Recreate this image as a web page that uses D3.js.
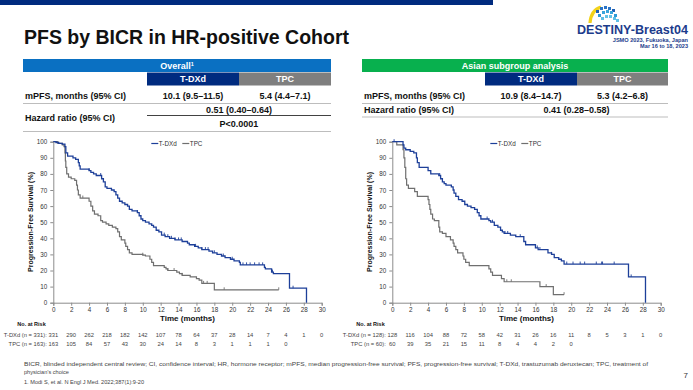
<!DOCTYPE html>
<html><head><meta charset="utf-8">
<script src="https://cdn.jsdelivr.net/npm/d3@7"></script>
<style>html,body{margin:0;padding:0;background:#fff}svg{display:block}text{font-family:"Liberation Sans",Arial,Helvetica,sans-serif}</style>
</head><body><svg id="c" width="693" height="390"></svg>
<script>
// ---------- DATA ----------
const timeTicks = d3.range(0, 31, 2);
const survTicks = d3.range(0, 101, 10);
const seriesNames = ["T-DXd", "TPC"];

// Overall cohort KM steps [month, PFS %]
const overallTdxd = [[0,100],[0.3,99.5],[0.6,99],[1.0,98.5],[1.3,97],[1.4,93],[1.6,91],[2.2,90],[2.5,89],[2.8,87],[2.9,85],[3.0,83],[4.0,82],[4.2,81],[4.5,80],[4.8,79],[5.4,77],[5.6,75],[5.8,72],[6.0,71],[6.5,70],[6.8,69],[7.0,67],[7.2,65],[7.4,63],[7.7,62],[8.0,61],[8.3,60],[8.5,58],[8.8,57],[9.4,56],[9.6,54],[9.8,52],[10.0,51],[10.3,50],[10.7,49],[11.0,48],[11.2,47],[11.5,45],[11.8,44],[12.1,42],[12.5,41],[13.0,40],[13.6,39],[14.4,38],[15.0,37],[15.2,36],[15.8,35],[16.2,34],[16.6,33],[17.4,32],[17.8,31],[18.3,30],[18.8,29],[19.2,28],[19.8,27],[20.2,26],[20.8,25],[20.9,23.5],[23.6,22],[23.7,21],[24.4,19],[24.6,18],[26.4,9],[28.3,0]];
const overallTpc = [[0,100],[0.5,99],[1.0,98],[1.2,97],[1.3,93],[1.35,88],[1.4,84],[1.5,80],[1.7,78],[2.0,77],[2.4,76],[2.6,73],[2.7,70],[2.8,67],[3.0,65],[4.0,63],[4.2,60],[4.4,57],[4.6,55],[5.0,54],[5.3,51],[5.5,50],[5.9,49],[6.2,48],[6.6,47],[7.0,46],[7.2,44],[7.4,41],[7.6,39],[8.0,37],[8.1,35],[8.3,33],[8.5,31],[8.8,30],[10.0,29.5],[10.3,29],[10.8,27],[11.0,25],[11.2,23],[12.4,22],[12.6,21],[12.8,20],[13.8,19],[14.1,18],[14.4,17],[15.3,16],[16.0,15],[16.3,14],[16.6,12],[18.0,8],[25.2,8]];
const overallTdxdCensor = [4.0,5.3,9.4,12.4,12.8,13.2,13.6,14.0,14.3,15.9,16.6,17.0,17.3,18.0,19.0,20.0,21.2,21.6,22.0,22.5,23.0,23.4,24.5,26.8];
const overallTpcCensor = [3.3,10.0,12.8,13.5,14.4,16.8,17.2,19.1,25.2];

// Asian subgroup KM steps
const asianTdxd = [[0,100],[1.2,98],[1.3,96],[1.5,95],[2.0,94],[2.4,93],[2.7,90],[2.8,87],[3.0,84],[4.0,82],[4.3,80],[5.2,79],[5.4,77],[5.6,75],[5.8,74],[6.0,73],[6.6,72],[6.8,70],[6.9,68],[7.1,66],[7.4,64],[7.8,63],[8.1,61],[8.4,60],[8.8,59],[9.2,58],[9.5,56],[9.7,54],[9.9,52],[10.8,51],[11.0,50],[11.4,48],[11.8,47],[12.1,45],[12.3,44],[12.5,43],[13.2,42],[13.8,41],[14.7,38],[14.9,36],[16.0,34],[16.3,33],[17.4,31],[17.8,30],[18.1,28],[18.6,27],[18.9,26],[19.2,24],[26.4,16],[28.3,0]];
const asianTpc = [[0,100],[0.5,98],[1.2,95],[1.3,90],[1.4,84],[1.5,77],[1.6,73],[1.8,71],[2.5,69],[2.8,66],[4.0,64],[4.1,61],[4.2,58],[4.3,55],[4.5,52],[4.7,51],[5.2,47],[5.3,44],[5.6,43],[6.0,41],[6.5,39],[6.8,37],[6.9,35],[7.1,33],[7.3,31],[7.9,29],[8.0,27],[8.2,25],[8.6,23],[10.8,21],[11.0,19],[11.2,17],[12.2,15],[12.5,13],[16.5,10],[18.0,5],[19.2,5]];
const asianTdxdCensor = [0.2,5.3,10.6,11.2,12.6,12.9,14.3,16.2,16.5,17.8,19.5,20.2,21.0,21.5,22.8,23.4,23.5,24.8,26.7];
const asianTpcCensor = [12.8,13.3,17.2,19.2];

// Numbers at risk (every 2 months)
const overallRiskTdxd = [331,290,262,218,182,142,107,78,64,37,28,14,7,4,1,0];
const overallRiskTpc = [163,105,84,57,43,30,24,14,8,3,1,1,1,0];
const asianRiskTdxd = [128,116,104,88,72,58,42,31,26,16,11,8,5,3,1,0];
const asianRiskTpc = [60,39,35,21,15,11,8,4,4,2,0];

// Table texts
const overallTable = {title:"Overall", sup:"1", mpfs:["10.1 (9.5–11.5)","5.4 (4.4–7.1)"], hr:"0.51 (0.40–0.64)", p:"P<0.0001"};
const asianTable = {title:"Asian subgroup analysis", sup:"", mpfs:["10.9 (8.4–14.7)","5.3 (4.2–6.8)"], hr:"0.41 (0.28–0.58)", p:null};

// ---------- DRAW ----------
const svg = d3.select("#c");
const NAVY = "#002b7f", TDXD = "#1d3f99", TPC = "#6f6f6f", AX = "#8c8c8c";
svg.append("rect").attr("width",693).attr("height",390).attr("fill","#fff");

// top bar
svg.append("rect").attr("x",0).attr("y",0).attr("width",493).attr("height",5).attr("fill",NAVY);
// title
svg.append("text").attr("x",24).attr("y",44).attr("font-size",19.5).attr("font-weight","bold").attr("fill","#111")
  .attr("textLength",325).attr("lengthAdjust","spacingAndGlyphs").text("PFS by BICR in HR-positive Cohort");

// logo
const logo = svg.append("g");
logo.append("path").attr("d","M590,23 Q591,10 601,7").attr("fill","none").attr("stroke","#f2d21b").attr("stroke-width",3.2);
const sq = [[596,10,"#1f5fb4"],[600,7,"#2a74c6"],[604,6,"#2a74c6"],[608,7,"#2a74c6"],[612,9,"#1f5fb4"],
  [598,14,"#2d9bd6"],[602,11,"#3aa6dc"],[606,10,"#3aa6dc"],[610,11,"#3aa6dc"],[614,14,"#2d9bd6"],
  [601,17,"#5ec0e6"],[605,15,"#64c3e6"],[609,15,"#64c3e6"],[613,17,"#5ec0e6"],[616,19,"#5ec0e6"]];
logo.selectAll("rect").data(sq).join("rect").attr("x",d=>d[0]).attr("y",d=>d[1]).attr("width",3).attr("height",3).attr("fill",d=>d[2]);
svg.append("text").attr("x",688).attr("y",34).attr("text-anchor","end").attr("font-size",12).attr("font-weight","bold").attr("fill","#1c3c8c")
  .attr("textLength",111).attr("lengthAdjust","spacingAndGlyphs").text("DESTINY-Breast04");
svg.append("text").attr("x",688).attr("y",41.5).attr("text-anchor","end").attr("font-size",5.6).attr("font-weight","bold").attr("fill","#1c3c8c").text("JSMO 2023, Fukuoka, Japan");
svg.append("text").attr("x",688).attr("y",48).attr("text-anchor","end").attr("font-size",5.6).attr("font-weight","bold").attr("fill","#1c3c8c").text("Mar 16 to 18, 2023");

// tables
function drawTable(cfg, t){
  const g = svg.append("g");
  g.append("rect").attr("x",cfg.x0).attr("y",59).attr("width",cfg.x3-cfg.x0).attr("height",13).attr("fill",cfg.color);
  const ht = g.append("text").attr("x",(cfg.x0+cfg.x3)/2).attr("y",68.5).attr("text-anchor","middle").attr("font-size",9).attr("font-weight","bold").attr("fill","#fff").text(t.title);
  if (t.sup) ht.append("tspan").attr("font-size",5.5).attr("dy",-3).text(t.sup);
  g.append("rect").attr("x",cfg.x1).attr("y",72.5).attr("width",cfg.x2-cfg.x1).attr("height",13).attr("fill",NAVY);
  g.append("rect").attr("x",cfg.x2).attr("y",72.5).attr("width",cfg.x3-cfg.x2).attr("height",13).attr("fill","#7f7f7f");
  g.append("text").attr("x",(cfg.x1+cfg.x2)/2).attr("y",82).attr("text-anchor","middle").attr("font-size",9).attr("font-weight","bold").attr("fill","#fff").text(seriesNames[0]);
  g.append("text").attr("x",(cfg.x2+cfg.x3)/2).attr("y",82).attr("text-anchor","middle").attr("font-size",9).attr("font-weight","bold").attr("fill","#fff").text(seriesNames[1]);
  g.append("text").attr("x",cfg.x0+2).attr("y",99).attr("font-size",9).attr("font-weight","bold").attr("fill","#111").text("mPFS, months (95% CI)");
  g.append("text").attr("x",(cfg.x1+cfg.x2)/2).attr("y",99).attr("text-anchor","middle").attr("font-size",9).attr("font-weight","bold").attr("fill","#111").text(t.mpfs[0]);
  g.append("text").attr("x",(cfg.x2+cfg.x3)/2).attr("y",99).attr("text-anchor","middle").attr("font-size",9).attr("font-weight","bold").attr("fill","#111").text(t.mpfs[1]);
  g.append("line").attr("x1",cfg.x0).attr("x2",cfg.x3).attr("y1",103.5).attr("y2",103.5).attr("stroke","#bdbdbd").attr("stroke-width",1);
  const mid = (cfg.x1+cfg.x3)/2;
  if (t.p){
    g.append("text").attr("x",mid).attr("y",112.5).attr("text-anchor","middle").attr("font-size",9).attr("font-weight","bold").attr("fill","#111").text(t.hr);
    g.append("line").attr("x1",cfg.x1).attr("x2",cfg.x3).attr("y1",115.5).attr("y2",115.5).attr("stroke","#111").attr("stroke-width",0.8);
    g.append("text").attr("x",mid).attr("y",127).attr("text-anchor","middle").attr("font-size",9).attr("font-weight","bold").attr("fill","#111").text(t.p);
    g.append("text").attr("x",cfg.x0+2).attr("y",121).attr("font-size",9).attr("font-weight","bold").attr("fill","#111").text("Hazard ratio (95% CI)");
    g.append("line").attr("x1",cfg.x0).attr("x2",cfg.x3).attr("y1",131.5).attr("y2",131.5).attr("stroke","#bdbdbd").attr("stroke-width",1);
  } else {
    g.append("text").attr("x",mid).attr("y",113).attr("text-anchor","middle").attr("font-size",9).attr("font-weight","bold").attr("fill","#111").text(t.hr);
    g.append("text").attr("x",cfg.x0+2).attr("y",113).attr("font-size",9).attr("font-weight","bold").attr("fill","#111").text("Hazard ratio (95% CI)");
    g.append("line").attr("x1",cfg.x0).attr("x2",cfg.x3).attr("y1",117).attr("y2",117).attr("stroke","#bdbdbd").attr("stroke-width",1);
  }
}
drawTable({x0:23,x1:147,x2:239,x3:331,color:"#0a70c2"}, overallTable);
drawTable({x0:362,x1:485,x2:577,x3:668,color:"#08b04e"}, asianTable);

// KM charts
function survAt(steps, t){ let s = steps[0][1]; for (const d of steps){ if (d[0] <= t) s = d[1]; else break; } return s; }
function drawKM(ox, tdxd, tpc, cT, cP, rT, rP, nT, nP){
  const x = d3.scaleLinear().domain([0,30]).range([ox, ox+268.4]);
  const y = d3.scaleLinear().domain([0,100]).range([302.7, 141.7]);
  const g = svg.append("g");
  const xa = g.append("g").attr("transform","translate(0,302.7)").call(d3.axisBottom(x).tickValues(timeTicks).tickSize(3).tickPadding(2).tickFormat(d3.format("d")));
  const ya = g.append("g").attr("transform",`translate(${ox},0)`).call(d3.axisLeft(y).tickValues(survTicks).tickSize(3).tickPadding(3).tickFormat(d3.format("d")));
  [xa,ya].forEach(a=>{ a.select(".domain").attr("stroke",AX); a.selectAll(".tick line").attr("stroke",AX);
    a.selectAll("text").attr("font-size",6.3).attr("fill","#333").attr("font-family","Liberation Sans, Arial, sans-serif"); });
  const line = d3.line().x(d=>x(d[0])).y(d=>y(d[1])).curve(d3.curveStepAfter);
  g.append("path").datum(tpc).attr("d",line).attr("fill","none").attr("stroke",TPC).attr("stroke-width",1.2);
  g.append("path").datum(tdxd).attr("d",line).attr("fill","none").attr("stroke",TDXD).attr("stroke-width",1.3);
  g.selectAll(".ct").data(cT).join("line").attr("x1",d=>x(d)).attr("x2",d=>x(d)).attr("y1",d=>y(survAt(tdxd,d))-2.5).attr("y2",d=>y(survAt(tdxd,d))).attr("stroke",TDXD).attr("stroke-width",0.9);
  g.selectAll(".cp").data(cP).join("line").attr("x1",d=>x(d)).attr("x2",d=>x(d)).attr("y1",d=>y(survAt(tpc,d))-2.5).attr("y2",d=>y(survAt(tpc,d))).attr("stroke",TPC).attr("stroke-width",0.9);
  const lx = ox + 98;
  g.append("line").attr("x1",lx).attr("x2",lx+7).attr("y1",143.5).attr("y2",143.5).attr("stroke",TDXD).attr("stroke-width",1.2);
  g.append("text").attr("x",lx+7.5).attr("y",145.5).attr("font-size",6.3).attr("fill","#333").text(seriesNames[0]);
  g.append("line").attr("x1",lx+31).attr("x2",lx+38).attr("y1",143.5).attr("y2",143.5).attr("stroke",TPC).attr("stroke-width",1.2);
  g.append("text").attr("x",lx+38.5).attr("y",145.5).attr("font-size",6.3).attr("fill","#333").text(seriesNames[1]);
  g.append("text").attr("transform",`translate(${ox-20},222) rotate(-90)`).attr("text-anchor","middle").attr("font-size",7).attr("font-weight","bold").attr("fill","#111").text("Progression-Free Survival (%)");
  g.append("text").attr("x",ox+134.2).attr("y",320.5).attr("text-anchor","middle").attr("font-size",8).attr("font-weight","bold").attr("fill","#111").text("Time (months)");
  g.append("text").attr("x",ox-36).attr("y",326).attr("font-size",5.5).attr("font-weight","bold").attr("fill","#111").text("No. at Risk");
  g.append("text").attr("x",ox-6.5).attr("y",336.5).attr("text-anchor","end").attr("font-size",5.8).attr("fill","#444").text(nT);
  g.append("text").attr("x",ox-6.5).attr("y",345.5).attr("text-anchor","end").attr("font-size",5.8).attr("fill","#444").text(nP);
  g.selectAll(".rt").data(rT).join("text").attr("x",(d,i)=>x(timeTicks[i])).attr("y",336.5).attr("text-anchor","middle").attr("font-size",5.8).attr("fill","#444").text(d=>d);
  g.selectAll(".rp").data(rP).join("text").attr("x",(d,i)=>x(timeTicks[i])).attr("y",345.5).attr("text-anchor","middle").attr("font-size",5.8).attr("fill","#444").text(d=>d);
}
drawKM(53.3, overallTdxd, overallTpc, overallTdxdCensor, overallTpcCensor, overallRiskTdxd, overallRiskTpc, "T-DXd (n = 331):", "TPC (n = 163):");
drawKM(392.3, asianTdxd, asianTpc, asianTdxdCensor, asianTpcCensor, asianRiskTdxd, asianRiskTpc, "T-DXd (n = 128):", "TPC (n = 60):");

// footnotes
svg.append("text").attr("x",24).attr("y",366).attr("font-size",5.6).attr("fill","#444").attr("textLength",624).attr("lengthAdjust","spacingAndGlyphs")
  .text("BICR, blinded independent central review; CI, confidence interval; HR, hormone receptor; mPFS, median progression-free survival; PFS, progression-free survival; T-DXd, trastuzumab deruxtecan; TPC, treatment of");
svg.append("text").attr("x",24).attr("y",374).attr("font-size",5.6).attr("fill","#444").text("physician’s choice");
svg.append("text").attr("x",24).attr("y",384).attr("font-size",5.6).attr("fill","#444").text("1. Modi S, et al. N Engl J Med. 2022;387(1):9-20");
svg.append("text").attr("x",688).attr("y",378).attr("text-anchor","end").attr("font-size",8).attr("fill","#333").text("7");
</script></body></html>
